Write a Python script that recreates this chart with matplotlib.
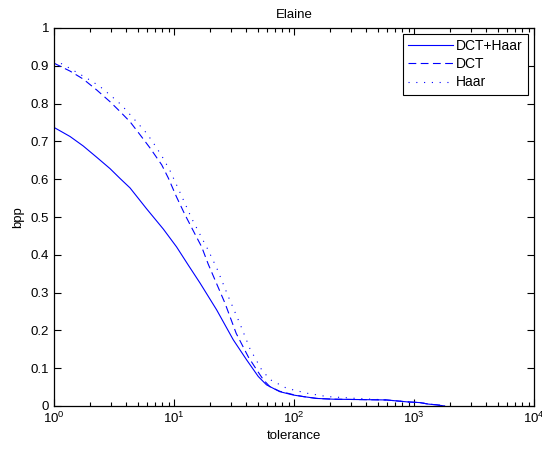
import matplotlib
matplotlib.use("Agg")
import matplotlib.pyplot as plt
import numpy as np
from matplotlib.ticker import LogLocator, FixedLocator, NullFormatter

plt.rcParams['font.family'] = ['Liberation Sans', 'DejaVu Sans']

title = "Elaine"
xlabel = "tolerance"
ylabel = "bpp"
series_names = ["DCT+Haar", "DCT", "Haar"]

t_dcthaar = [1, 1.36, 1.75, 2.27, 2.93, 3.55, 4.3, 5.9, 8.15, 10.5, 13.2, 16.5, 22.7, 31.2, 40.3,
             50.4, 59, 76, 98.7, 119, 155, 212, 590, 870, 1120, 1320, 1550, 1800]
v_dcthaar = [0.737, 0.713, 0.688, 0.658, 0.628, 0.602, 0.577, 0.522, 0.468, 0.421, 0.372, 0.325, 0.254,
             0.175, 0.122, 0.078, 0.056, 0.038, 0.029, 0.025, 0.020, 0.018, 0.016, 0.011, 0.009, 0.005, 0.003, 0.0]

t_dct = [1, 1.36, 1.75, 2.27, 2.93, 3.55, 4.3, 5.2, 6.3, 7.9, 8.97, 10.5, 12.3, 14.5, 17, 19.3, 26.6, 33,
         41.6, 49, 55.7, 63, 76, 98.7, 119, 155, 212, 590, 870, 1120, 1320, 1550, 1800]
v_dct = [0.907, 0.886, 0.865, 0.836, 0.805, 0.779, 0.752, 0.718, 0.683, 0.638, 0.603, 0.553, 0.507, 0.463,
         0.421, 0.375, 0.272, 0.192, 0.13, 0.095, 0.069, 0.051, 0.039, 0.03, 0.025, 0.020, 0.018, 0.016,
         0.011, 0.009, 0.005, 0.003, 0.0]

t_haar = [1, 1.2, 1.6, 2.0, 2.42, 3.03, 3.66, 4.3, 4.9, 5.9, 6.7, 7.9, 9.25, 10.5, 12.3, 14, 16.4, 19.3,
          22.7, 28.4, 35.5, 43, 53.5, 63, 86.8, 127, 188, 334, 590, 870, 1120, 1320, 1550, 1800]
v_haar = [0.915, 0.903, 0.88, 0.862, 0.845, 0.819, 0.796, 0.771, 0.751, 0.722, 0.697, 0.662, 0.623, 0.585,
          0.537, 0.497, 0.455, 0.412, 0.365, 0.289, 0.217, 0.151, 0.097, 0.07, 0.047, 0.034, 0.025, 0.02,
          0.016, 0.011, 0.009, 0.005, 0.003, 0.0]

fig = plt.figure(figsize=(5.42, 4.53), dpi=100)
ax = fig.add_axes([54/542, (453-406)/453, 480/542, 378/453])

blue = (0, 0, 1)
ax.plot(t_dcthaar, v_dcthaar, color=blue, lw=0.8, linestyle='-', label=series_names[0])
ax.plot(t_dct, v_dct, color=blue, lw=0.8, linestyle=(0, (7, 4)), label=series_names[1])
ax.plot(t_haar, v_haar, color=blue, lw=0.8, linestyle=(0, (1, 6)), label=series_names[2])

ax.set_xscale('log')
ax.set_xlim(1, 1e4)
ax.set_ylim(0, 1)
ax.set_yticks(np.arange(0, 1.01, 0.1))
ax.set_yticklabels(["0", "0.1", "0.2", "0.3", "0.4", "0.5", "0.6", "0.7", "0.8", "0.9", "1"])
ax.xaxis.set_major_locator(FixedLocator([1, 10, 100, 1000, 10000]))
ax.xaxis.set_minor_locator(LogLocator(base=10, subs=np.arange(2, 10), numticks=20))
ax.xaxis.set_minor_formatter(NullFormatter())
ax.tick_params(which='both', direction='in', top=True, right=True, labelsize=9.5, colors='black', width=0.8)
ax.tick_params(which='major', length=5)
ax.tick_params(which='minor', length=3)
for s in ax.spines.values():
    s.set_linewidth(0.9)

ax.set_title(title, fontsize=9.5, pad=7)
ax.set_xlabel(xlabel, fontsize=9.5, labelpad=3)
ax.set_ylabel(ylabel, fontsize=9.5, labelpad=5)

leg = ax.legend(loc='upper right', fontsize=10, frameon=True, fancybox=False, edgecolor='black',
                framealpha=1, borderaxespad=0.4, handlelength=3.2, handletextpad=0.25, labelspacing=0.3,
                borderpad=0.4)
leg.get_frame().set_linewidth(0.8)

fig.savefig("out.png", dpi=100)
